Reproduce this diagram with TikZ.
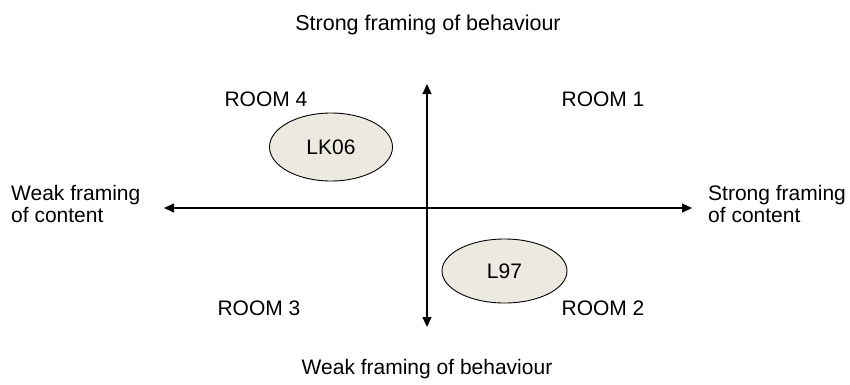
\documentclass[tikz,border=0pt]{standalone}
\usepackage{fontspec}
\setmainfont{Liberation Sans}
\usetikzlibrary{arrows.meta,shapes.geometric}
\definecolor{bubble}{RGB}{236,234,224}
\begin{document}
\begin{tikzpicture}[x=1pt,y=-1pt,
  lbl/.style={font=\fontsize{21}{22}\selectfont,inner sep=0pt,anchor=base},
  axis/.style={line width=1.3pt,{Triangle[length=10pt,width=9pt]}-{Triangle[length=10pt,width=9pt]}},
  bub/.style={ellipse,draw,line width=0.9pt,fill=bubble,minimum width=123pt,minimum height=68pt,inner sep=0pt,font=\fontsize{21}{22}\selectfont}]
\useasboundingbox (0,0) rectangle (850,384);
% axes
\coordinate (west) at (164,208);
\coordinate (east) at (692,208);
\coordinate (north) at (427,84);
\coordinate (south) at (427,327);
\draw[axis] (west) -- (east);
\draw[axis] (north) -- (south);
% axis labels
\node[lbl,font=\fontsize{21.5}{22}\selectfont] (top) at (428,30) {Strong framing of behaviour};
\node[lbl] (bottom) at (427,374) {Weak framing of behaviour};
\node[lbl,anchor=base west,align=left] (left) at (11,222) {Weak framing\\of content};
\node[lbl,anchor=base west,align=left] (right) at (708,222) {Strong framing\\of content};
% quadrants
\node[lbl] (r4) at (266,106) {ROOM 4};
\node[lbl] (r1) at (603,106) {ROOM 1};
\node[lbl] (r3) at (259,315) {ROOM 3};
\node[lbl] (r2) at (603,315) {ROOM 2};
% studies
\node[bub] (lk06) at (331,147) {LK06};
\node[bub,minimum width=125pt,minimum height=64pt] (l97) at (504.5,271) {L97};
\end{tikzpicture}
\end{document}
